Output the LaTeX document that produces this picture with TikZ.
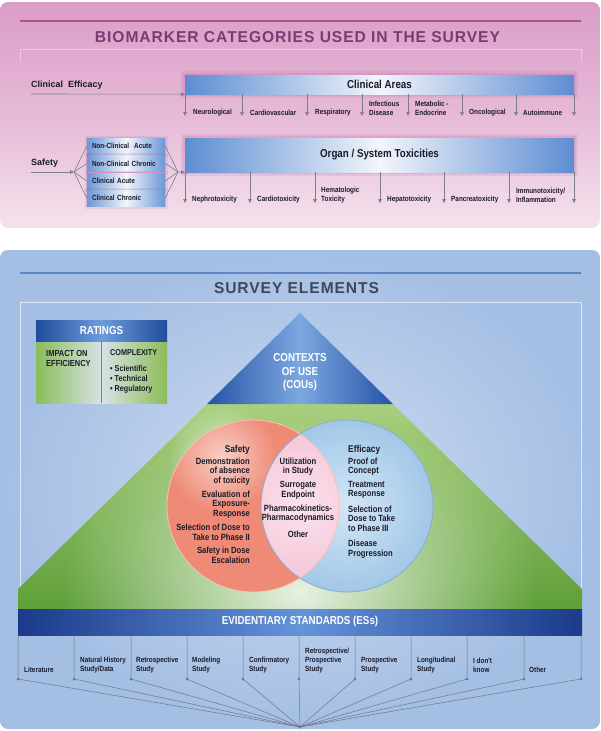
\documentclass[tikz,border=0pt]{standalone}
\usepackage{fontspec}
\usepackage{graphicx}
\setmainfont{Liberation Sans}
\newfontfamily\cond{Liberation Sans}[FakeStretch=0.85]
\newfontfamily\spaced{Liberation Sans}[LetterSpace=6]
\usetikzlibrary{arrows.meta,fadings}
\definecolor{pinkTop}{HTML}{DA9DC7}
\definecolor{pinkMid}{HTML}{E6BAD8}
\definecolor{pinkBot}{HTML}{F4E2EC}
\definecolor{titlePurple}{HTML}{7A3C6E}
\definecolor{pinkLine}{HTML}{B2518E}
\definecolor{pinkBracket}{HTML}{EBCBE0}
\definecolor{pinkGlow}{HTML}{C0509A}
\definecolor{barBlue}{HTML}{5D8DD2}
\definecolor{barLight}{HTML}{F2F5FB}
\definecolor{boxBlue}{HTML}{6A98D6}
\definecolor{txtc}{HTML}{1B1B2A}
\definecolor{arrc}{HTML}{7C7C8C}
\definecolor{blueIn}{HTML}{D0DDF1}
\definecolor{blueOut}{HTML}{A4BEE4}
\definecolor{blueLine}{HTML}{5A86C3}
\definecolor{titleGrey}{HTML}{3E4859}
\definecolor{blueBracket}{HTML}{DCE6F5}
\definecolor{triDark}{HTML}{2553A6}
\definecolor{triLight}{HTML}{7CA8DF}
\definecolor{gTop}{HTML}{A9CF7E}
\definecolor{gBot}{HTML}{5E9F38}
\definecolor{esDark}{HTML}{1B3A8A}
\definecolor{esLight}{HTML}{6493D8}
\definecolor{rDark}{HTML}{1F4C9C}
\definecolor{rLight}{HTML}{6E9CDA}
\definecolor{rGreen}{HTML}{8BBD58}
\definecolor{rPale}{HTML}{D8E2E6}
\definecolor{salmon}{HTML}{EF8A76}
\definecolor{salmonEdge}{HTML}{F8C3B4}
\definecolor{vblue}{HTML}{A2C7E7}
\definecolor{vblueLight}{HTML}{D3E6F6}
\definecolor{vblueEdge}{HTML}{86AED0}
\definecolor{vpink}{HTML}{F4C2D6}
\definecolor{vpinkLight}{HTML}{FBE2EC}
\definecolor{esline}{HTML}{6E7888}
\tikzfading[name=glowfade, inner color=transparent!0, outer color=transparent!100]
\begin{document}
\begin{tikzpicture}[x=1pt,y=-1pt,
  lbl/.style={text=txtc, inner sep=0pt, font=\cond\bfseries\fontsize{7.5}{9}\selectfont, align=left, anchor=west},
  vtxt/.style={text=txtc, inner sep=0pt, font=\cond\bfseries\fontsize{9}{9.6}\selectfont},
  vhead/.style={text=txtc, inner sep=0pt, font=\cond\bfseries\fontsize{9.8}{10}\selectfont},
  arr/.style={draw=arrc, line width=0.6pt, -{Triangle[length=4pt,width=3.6pt]}},
  ln/.style={draw=arrc, line width=0.6pt},
  glow/.style={preaction={draw=pinkGlow, line width=#1, opacity=.12},
               preaction={draw=pinkGlow, line width=#1/2, opacity=.15}},
  bar/.style={left color=barBlue, right color=barBlue, middle color=barLight, minimum width=389pt, inner sep=0pt,
     font=\cond\bfseries\fontsize{11.5}{12}\selectfont, text=txtc, glow=8pt},
  sbox/.style={left color=boxBlue, right color=boxBlue, middle color=barLight, minimum width=78pt, minimum height=16pt,
     inner sep=0pt, font=\cond\bfseries\fontsize{7.5}{8}\selectfont, text=txtc, text width=68pt, align=left, glow=5pt},
  esln/.style={draw=esline, line width=0.5pt},
  wtitle/.style={text=white, inner sep=0pt, font=\cond\bfseries\fontsize{11.5}{13.5}\selectfont, align=center}
]
\useasboundingbox (0,0) rectangle (600,731);

% ================= TOP PANEL =================
\shade[rounded corners=8pt, top color=pinkTop, bottom color=pinkBot, middle color=pinkMid] (0,2) rectangle (600,228);
\draw[pinkLine, line width=2pt] (20,21) -- (581,21);
\node[inner sep=0pt, text=titlePurple] (t1) at (297.5,37) {\resizebox{405pt}{11pt}{\spaced\bfseries BIOMARKER CATEGORIES USED IN THE SURVEY}};
\draw[pinkBracket, line width=0.8pt] (20,62) -- (20,49) -- (581,49) -- (581,62);

% Clinical efficacy row
\node[anchor=west, inner sep=0pt, text=txtc, font=\bfseries\fontsize{9}{10}\selectfont] (ce) at (31,85) {Clinical\ \ Efficacy};
\coordinate (ceStart) at (31,94);
\node[bar, minimum height=19pt] (ca) at (379.5,84.5) {Clinical Areas};
\draw[arr] (ceStart) -- (ca.south west);
\foreach \x [count=\i] in {185,242,307,362,408,462,516,574} {
  \coordinate (c\i) at (\x,116);
  \draw[arr] (ca.south -| c\i) -- (c\i);
}
\node[lbl] (l1) at (193,113) {Neurological};
\node[lbl] (l2) at (250,113) {Cardiovascular};
\node[lbl] (l3) at (315,113) {Respiratory};
\node[lbl] (l4) at (369,108.5) {Infectious\\Disease};
\node[lbl] (l5) at (415,108.5) {Metabolic -\\Endocrine};
\node[lbl] (l6) at (469,113) {Oncological};
\node[lbl] (l7) at (523,113) {Autoimmune};

% Safety row
\node[anchor=west, inner sep=0pt, text=txtc, font=\bfseries\fontsize{9}{10}\selectfont] (sf) at (31,163) {Safety};
\coordinate (sfStart) at (31,172);
\coordinate (fan) at (74,172);
\coordinate (conv) at (178,172);
\draw[arr] (sfStart) -- (fan);
\node[sbox] (b1) at (126,146) {Non-Clinical\ \ Acute};
\node[sbox] (b2) at (126,163.5) {Non-Clinical Chronic};
\node[sbox] (b3) at (126,181) {Clinical Acute};
\node[sbox] (b4) at (126,198) {Clinical Chronic};
\foreach \b in {b1,b2,b3,b4} {
  \draw[ln] (fan) -- (\b.west);
  \draw[ln] (\b.east) -- (conv);
}
\node[bar, minimum height=34pt] (ot) at (379.5,155) {Organ / System Toxicities};
\draw[arr] (conv) -- (ot.south west);
\foreach \x [count=\i] in {185,250,315,380,444,509,574} {
  \coordinate (o\i) at (\x,203);
  \draw[arr] (ot.south -| o\i) -- (o\i);
}
\node[lbl] (m1) at (192,200) {Nephrotoxicity};
\node[lbl] (m2) at (257,200) {Cardiotoxicity};
\node[lbl] (m3) at (321,195.5) {Hematologic\\Toxicity};
\node[lbl] (m4) at (387,200) {Hepatotoxicity};
\node[lbl] (m5) at (451,200) {Pancreatoxicity};
\node[lbl] (m6) at (516,195.5) {Immunotoxicity/\\Inflammation};

% ================= BOTTOM PANEL =================
\shade[rounded corners=8pt, inner color=blueIn, outer color=blueOut] (0,250) rectangle (600,729);
\draw[blueLine, line width=2pt] (20,273) -- (581,273);
\node[inner sep=0pt, text=titleGrey] (t2) at (296.5,288) {\resizebox{165pt}{11pt}{\spaced\bfseries SURVEY ELEMENTS}};
\draw[blueBracket, line width=0.8pt] (20,609) -- (20,302) -- (581,302) -- (581,609);

% green pyramid body
\def\trap{(207,404) -- (393,404) -- (582,589) -- (582,609) -- (18,609) -- (18,589) -- cycle}
\shade[top color=gTop, bottom color=gBot] \trap;
\begin{scope}
  \clip \trap;
  \fill[white, opacity=.85, path fading=glowfade] (300,592) ellipse (240pt and 175pt);
\end{scope}

% triangle COUs
\shade[left color=triDark, right color=triDark, middle color=triLight] (300,313) -- (393,404) -- (207,404) -- cycle;
\node[wtitle] (cou) at (300,372.5) {CONTEXTS\\OF USE\\(COUs)};

% ratings box
\node[left color=rDark, right color=rDark, middle color=rLight, minimum width=131pt, minimum height=22pt, inner sep=0pt,
  text=white, font=\cond\bfseries\fontsize{11.5}{12}\selectfont] (rh) at (101.5,331) {RATINGS};
\node[left color=rGreen, right color=rGreen, middle color=rPale, minimum width=131pt, minimum height=61pt, inner sep=0pt] (rb) at (101.5,372.5) {};
\draw[arrc, line width=0.5pt] (rb.north) -- (rb.south);
\node[anchor=west, inner sep=0pt, text=txtc, align=left, font=\cond\bfseries\fontsize{8.8}{10}\selectfont] (imp) at (46,358) {IMPACT ON\\EFFICIENCY};
\node[anchor=west, inner sep=0pt, text=txtc, font=\cond\bfseries\fontsize{8.5}{10}\selectfont] (cx) at (110,353) {COMPLEXITY};
\node[anchor=west, inner sep=0pt, text=txtc, align=left, font=\cond\bfseries\fontsize{8.5}{10}\selectfont] (cxl) at (110,379) {• Scientific\\• Technical\\• Regulatory};

% Venn diagram
\fill[salmon] (253,506) circle[radius=86pt];
\fill[white, opacity=.6, path fading=glowfade] (222,458) circle[radius=55pt];
\shade[inner color=vblueLight, outer color=vblue] (347,506) circle[radius=86pt];
\begin{scope}
  \clip (253,506) circle[radius=86pt];
  \clip (347,506) circle[radius=86pt];
  \shade[inner color=vpinkLight, outer color=vpink] (214,420) rectangle (386,592);
\end{scope}
\draw[salmonEdge, line width=0.8pt] (253,506) circle[radius=86pt];
\draw[vblueEdge, line width=0.8pt] (347,506) circle[radius=86pt];

\node[vhead, anchor=east] (vs) at (250,450) {Safety};
\node[vtxt, anchor=east, align=right] (vs1) at (250,471.5) {Demonstration\\of absence\\of toxicity};
\node[vtxt, anchor=east, align=right] (vs2) at (250,504.5) {Evaluation of\\Exposure-\\Response};
\node[vtxt, anchor=east, align=right] (vs3) at (250,532) {Selection of Dose to\\Take to Phase II};
\node[vtxt, anchor=east, align=right] (vs4) at (250,555) {Safety in Dose\\Escalation};

\node[vtxt, align=center] (vc1) at (298,466.5) {Utilization\\in Study};
\node[vtxt, align=center] (vc2) at (298,490) {Surrogate\\Endpoint};
\node[vtxt, align=center] (vc3) at (298,513.5) {Pharmacokinetics-\\Pharmacodynamics};
\node[vtxt, align=center] (vc4) at (298,534) {Other};

\node[vhead, anchor=west] (ve) at (348,450) {Efficacy};
\node[vtxt, anchor=west, align=left] (ve1) at (348,466.5) {Proof of\\Concept};
\node[vtxt, anchor=west, align=left] (ve2) at (348,490) {Treatment\\Response};
\node[vtxt, anchor=west, align=left] (ve3) at (348,518.5) {Selection of\\Dose to Take\\to Phase III};
\node[vtxt, anchor=west, align=left] (ve4) at (348,549) {Disease\\Progression};

% Evidentiary standards bar
\node[left color=esDark, right color=esDark, middle color=esLight, minimum width=564pt, minimum height=26pt, inner sep=0pt,
  text=white, font=\cond\bfseries\fontsize{11.5}{12}\selectfont] (es) at (300,622) {EVIDENTIARY STANDARDS (ESs)};
\coordinate (esfoot) at (300,727);
\foreach \x [count=\i] in {18,74,131,187,243,299,355,411,467,524,581} {
  \coordinate (d\i) at (\x,679);
  \draw[esln] (es.south -| d\i) -- (d\i) -- (esfoot);
  \fill[esline] (d\i) circle[radius=1.5pt];
}
\fill[esline] (esfoot) circle[radius=1.5pt];
\node[lbl] (e1) at (24,670) {Literature};
\node[lbl] (e2) at (80,665.5) {Natural History\\Study/Data};
\node[lbl] (e3) at (136,665.5) {Retrospective\\Study};
\node[lbl] (e4) at (192,665.5) {Modeling\\Study};
\node[lbl] (e5) at (249,665.5) {Confirmatory\\Study};
\node[lbl] (e6) at (305,661) {Retrospective/\\Prospective\\Study};
\node[lbl] (e7) at (361,665.5) {Prospective\\Study};
\node[lbl] (e8) at (417,665.5) {Longitudinal\\Study};
\node[lbl] (e9) at (473,665.5) {I don't\\know};
\node[lbl] (e10) at (529,670) {Other};
\end{tikzpicture}
\end{document}
